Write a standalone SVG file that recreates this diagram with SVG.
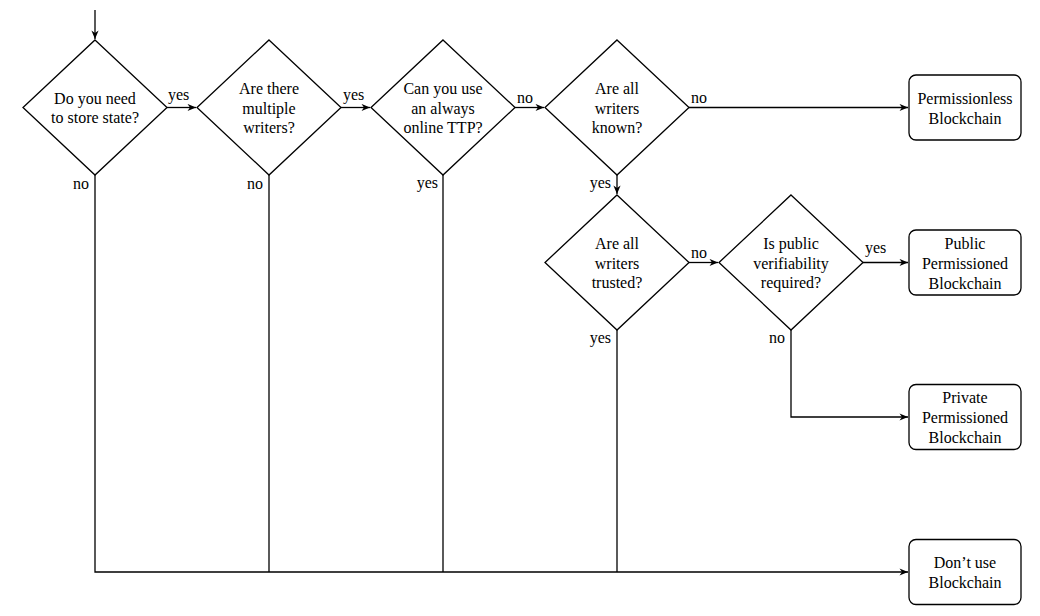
<svg xmlns="http://www.w3.org/2000/svg" width="1040" height="616" viewBox="0 0 1040 616">
<defs>
<marker id="arr" viewBox="-9 -4 10 8" refX="0" refY="0" markerWidth="10" markerHeight="8" markerUnits="userSpaceOnUse" orient="auto">
<path d="M0,0 L-8.5,-3.6 L-6,0 L-8.5,3.6 Z" fill="#000"/>
</marker>
<style>
.shape{fill:#fff;stroke:#000;stroke-width:1.3}
.edge{fill:none;stroke:#000;stroke-width:1.3}
text{font-family:"Liberation Serif","Times New Roman",serif;font-size:16px;fill:#000}
.c{text-anchor:middle}
.e{text-anchor:end}
</style>
</defs>
<g id="connectors">
<path class="edge" d="M95,10 V39" marker-end="url(#arr)"/>
<path class="edge" d="M167,107.5 H196" marker-end="url(#arr)"/>
<path class="edge" d="M341,107.5 H370" marker-end="url(#arr)"/>
<path class="edge" d="M515,107.5 H544" marker-end="url(#arr)"/>
<path class="edge" d="M689,107.5 H908" marker-end="url(#arr)"/>
<path class="edge" d="M617,175 V194" marker-end="url(#arr)"/>
<path class="edge" d="M689,262.5 H718" marker-end="url(#arr)"/>
<path class="edge" d="M863,262.5 H908" marker-end="url(#arr)"/>
<path class="edge" d="M791,330 V417 H908" marker-end="url(#arr)"/>
<path class="edge" d="M95,175 V572 H908" marker-end="url(#arr)"/>
<path class="edge" d="M269,175 V572"/>
<path class="edge" d="M443,175 V572"/>
<path class="edge" d="M617,330 V572"/>
<text x="168" y="100">yes</text>
<text x="89" y="189" class="e">no</text>
<text x="343" y="100">yes</text>
<text x="263" y="189" class="e">no</text>
<text x="517" y="103">no</text>
<text x="438" y="188" class="e">yes</text>
<text x="691" y="103">no</text>
<text x="611" y="188" class="e">yes</text>
<text x="691" y="258">no</text>
<text x="865" y="253">yes</text>
<text x="611" y="343" class="e">yes</text>
<text x="785" y="343" class="e">no</text>
</g>
<g id="d1">
<polygon class="shape" points="95,40 167,107.5 95,175 23,107.5"/>
<text x="95" y="103.5" class="c">Do you need</text>
<text x="95" y="123" class="c">to store state?</text>
</g>
<g id="d2">
<polygon class="shape" points="269,40 341,107.5 269,175 197,107.5"/>
<text x="269" y="94" class="c">Are there</text>
<text x="269" y="113.5" class="c">multiple</text>
<text x="269" y="133" class="c">writers?</text>
</g>
<g id="d3">
<polygon class="shape" points="443,40 515,107.5 443,175 371,107.5"/>
<text x="443" y="94" class="c">Can you use</text>
<text x="443" y="113.5" class="c">an always</text>
<text x="443" y="133" class="c">online TTP?</text>
</g>
<g id="d4">
<polygon class="shape" points="617,40 689,107.5 617,175 545,107.5"/>
<text x="617" y="94" class="c">Are all</text>
<text x="617" y="113.5" class="c">writers</text>
<text x="617" y="133" class="c">known?</text>
</g>
<g id="d5">
<polygon class="shape" points="617,195 689,262.5 617,330 545,262.5"/>
<text x="617" y="249" class="c">Are all</text>
<text x="617" y="268.5" class="c">writers</text>
<text x="617" y="288" class="c">trusted?</text>
</g>
<g id="d6">
<polygon class="shape" points="791,195 863,262.5 791,330 719,262.5"/>
<text x="791" y="249" class="c">Is public</text>
<text x="791" y="268.5" class="c">verifiability</text>
<text x="791" y="288" class="c">required?</text>
</g>
<g id="b1">
<rect class="shape" x="909" y="75" width="112" height="65" rx="7"/>
<text x="965" y="103.5" class="c">Permissionless</text>
<text x="965" y="123.5" class="c">Blockchain</text>
</g>
<g id="b2">
<rect class="shape" x="909" y="230" width="112" height="65" rx="7"/>
<text x="965" y="248.5" class="c">Public</text>
<text x="965" y="268.5" class="c">Permissioned</text>
<text x="965" y="288.5" class="c">Blockchain</text>
</g>
<g id="b3">
<rect class="shape" x="909" y="384.5" width="112" height="65" rx="7"/>
<text x="965" y="403" class="c">Private</text>
<text x="965" y="423" class="c">Permissioned</text>
<text x="965" y="443" class="c">Blockchain</text>
</g>
<g id="b4">
<rect class="shape" x="909" y="539.5" width="112" height="65" rx="7"/>
<text x="965" y="568" class="c">Don’t use</text>
<text x="965" y="588" class="c">Blockchain</text>
</g>
</svg>
